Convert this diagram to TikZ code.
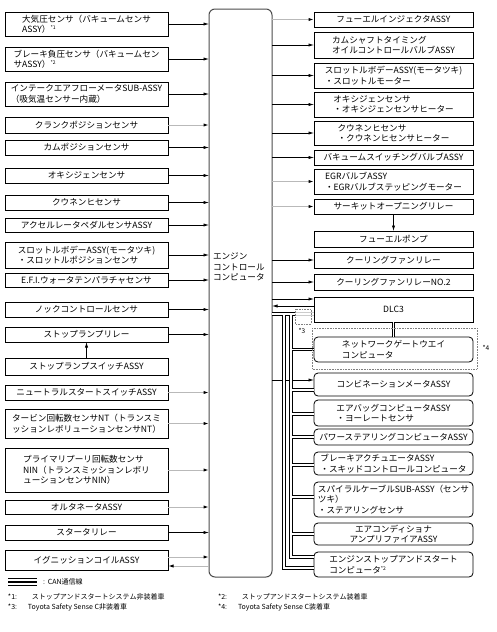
\documentclass[tikz,border=0pt]{standalone}
\usepackage{fontspec}
\setmainfont{Noto Sans CJK JP}
\usetikzlibrary{arrows.meta}
\newcommand{\mysup}[1]{\raisebox{3pt}{\fontsize{5}{5}\selectfont *#1}}
\begin{document}
\begin{tikzpicture}[x=1pt,y=-1pt,
  every node/.style={inner sep=0pt, outer sep=0pt, font=\fontsize{8.6}{10.5}\selectfont},
  lbox/.style={draw, line width=0.8pt, minimum width=163pt, align=left},
  rbox/.style={draw, line width=0.8pt, minimum width=159pt, align=left},
  rrbox/.style={rbox, rounded corners=4pt},
  arr/.style={line width=0.7pt, -{Latex[length=5.5pt,width=3.2pt,color=black]}},
  garr/.style={arr, draw=gray!55, line width=1pt},
  can/.style={line width=1pt, double=white, double distance=1.4pt},
  note/.style={font=\fontsize{7}{8}\selectfont, anchor=west},
]
\useasboundingbox (0,0) rectangle (496,632);
\fill[white] (0,0) rectangle (496,632);

% ECU
\node[draw=black!70, line width=1pt, rounded corners=6pt, minimum width=63pt, minimum height=568pt] (ecu) at (240.5,293) {};
\node[anchor=west, align=left] (ecutxt) at (213,267) {エンジン\\コントロール\\コンピュータ};

% left boxes
\node[lbox, minimum height=24pt] (L1) at (86.5,24) {大気圧センサ（バキュームセンサ\\ASSY）\mysup{1}};
\node[lbox, minimum height=24pt] (L2) at (86.5,59) {ブレーキ負圧センサ（バキュームセン\\サASSY）\mysup{2}};
\node[lbox, minimum height=24pt] (L3) at (86.5,94) {インテークエアフローメータSUB-ASSY\\（吸気温センサー内蔵）};
\node[lbox, minimum height=16pt] (L4) at (86.5,125) {クランクポジションセンサ};
\node[lbox, minimum height=15pt] (L5) at (86.5,147.5) {カムポジションセンサ};
\node[lbox, minimum height=15pt] (L6) at (86.5,175.5) {オキシジェンセンサ};
\node[lbox, minimum height=15pt] (L7) at (86.5,202.5) {クウネンヒセンサ};
\node[lbox, minimum height=14pt] (L8) at (86.5,225) {アクセルレータペダルセンサASSY};
\node[lbox, minimum height=26pt] (L9) at (86.5,255) {スロットルボデーASSY(モータツキ)\\・スロットルポジションセンサ};
\node[lbox, minimum height=14pt] (L10) at (86.5,280) {E.F.I.ウォータテンパラチャセンサ};
\node[lbox, minimum height=15pt] (L11) at (86.5,309.5) {ノックコントロールセンサ};
\node[lbox, minimum height=15pt] (L12) at (86.5,334.5) {ストップランプリレー};
\node[lbox, minimum height=17pt] (L13) at (86.5,366.5) {ストップランプスイッチASSY};
\node[lbox, minimum height=15pt] (L14) at (86.5,392.5) {ニュートラルスタートスイッチASSY};
\node[lbox, minimum height=29pt] (L15) at (86.5,423.5) {タービン回転数センサNT（トランスミ\\ッションレボリューションセンサNT）};
\node[lbox, minimum height=44pt] (L16) at (86.5,470) {プライマリプーリ回転数センサ\\NIN（トランスミッションレボリ\\ューションセンサNIN）};
\node[lbox, minimum height=14pt] (L17) at (86.5,507) {オルタネータASSY};
\node[lbox, minimum height=15pt] (L18) at (86.5,532.5) {スタータリレー};
\node[lbox, minimum height=20pt] (L19) at (86.5,560) {イグニッションコイルASSY};

% right boxes
\node[rbox, minimum height=15pt] (R1) at (393.5,19.5) {フューエルインジェクタASSY};
\node[rbox, minimum height=26pt] (R2) at (393.5,45) {カムシャフトタイミング\\オイルコントロールバルブASSY};
\node[rbox, minimum height=25pt] (R3) at (393.5,75.5) {スロットルボデーASSY(モータツキ)\\・スロットルモーター};
\node[rbox, minimum height=25pt] (R4) at (393.5,104.5) {オキシジェンセンサ\\・オキシジェンセンサヒーター};
\node[rbox, minimum height=24pt] (R5) at (393.5,133) {クウネンヒセンサ\\・クウネンヒセンサヒーター};
\node[rbox, minimum height=15pt] (R6) at (393.5,157.5) {バキュームスイッチングバルブASSY};
\node[rbox, minimum height=25pt] (R7) at (393.5,181.5) {EGRバルブASSY\\・EGRバルブステッピングモーター};
\node[rbox, minimum height=15pt] (R8) at (393.5,206.5) {サーキットオープニングリレー};
\node[rbox, minimum height=16pt] (R9) at (393.5,239) {フューエルポンプ};
\node[rbox, minimum height=16pt] (R10) at (393.5,260) {クーリングファンリレー};
\node[rbox, minimum height=16pt] (R11) at (393.5,282) {クーリングファンリレーNO.2};
\node[rbox, minimum height=25pt] (R12) at (393.5,309.5) {DLC3};
\node[rrbox, minimum height=25pt] (R13) at (393.5,349.5) {ネットワークゲートウエイ\\コンピュータ};
\node[rrbox, minimum height=23pt] (R14) at (393.5,384.5) {コンビネーションメータASSY};
\node[rrbox, minimum height=26pt] (R15) at (393.5,413) {エアバッグコンピュータASSY\\・ヨーレートセンサ};
\node[rrbox, minimum height=16pt] (R16) at (393.5,437) {パワーステアリングコンピュータASSY};
\node[rrbox, minimum height=23pt] (R17) at (393.5,463.5) {ブレーキアクチュエータASSY\\・スキッドコントロールコンピュータ};
\node[rrbox, minimum height=35pt] (R18) at (393.5,499.5) {スパイラルケーブルSUB-ASSY（センサ\\ツキ）\\・ステアリングセンサ};
\node[rrbox, minimum height=22pt, align=center] (R19) at (393.5,534) {エアコンディショナ\\アンプリファイアASSY};
\node[rrbox, minimum height=25pt] (R20) at (393.5,564.5) {エンジンストップアンドスタート\\コンピュータ\mysup{2}};

% left arrows into ECU
\foreach \n in {L1,L2,L3,L5,L6,L7,L8,L9,L10,L11,L12,L18}
  \draw[arr] (\n.east) -- (\n.east -| ecu.west);
\foreach \n in {L4,L14,L15,L16,L17}
  \draw[garr] (\n.east) -- (\n.east -| ecu.west);
\draw[garr] ([yshift=3pt]L19.east) -- ([yshift=3pt]L19.east -| ecu.west);
\draw[garr] ([yshift=-6pt]L19.east -| ecu.west) -- ([yshift=-6pt]L19.east);
\draw[arr] (L13.north) -- (L12.south);

% right arrows out of ECU
\foreach \n in {R2,R3,R4,R5,R6,R10,R11}
  \draw[arr] (\n.west -| ecu.east) -- (\n.west);
\foreach \n in {R1,R7,R8}
  \draw[garr] (\n.west -| ecu.east) -- (\n.west);
\draw[arr] (R8.south) -- (R9.north);
\draw[arr] ([yshift=10.5pt]R12.west -| ecu.east) -- ([yshift=10.5pt]R12.west);
\draw[arr] ([yshift=3.5pt]R12.west) -- ([yshift=3.5pt]R12.west -| ecu.east);
\draw[arr] ([yshift=4.5pt]R14.west -| ecu.east) -- ([yshift=4.5pt]R14.west);

% CAN bus
\draw[can, draw=gray!40] (295,314) -- (R12.west |- 0,314);
\draw[can] (ecu.east |- 0,314) -- (295,314)
  (284,314) -- (284,568) -- (R20.west |- 0,568)
  (291,314) -- (291,557) -- (R20.west |- 0,557)
  (291,349.5) -- (R13.west)
  (291,390) -- (R14.west |- 0,390)
  (291,414) -- (R15.west |- 0,414)
  (291,437) -- (R16.west)
  (291,465) -- (R17.west |- 0,465)
  (291,497) -- (R18.west |- 0,497)
  (291,534) -- (R19.west)
  (R12.south) -- (R13.north);

% option boxes
\draw[densely dotted, gray, line width=0.6pt] (295,309) rectangle (311,324);
\node[font=\fontsize{6.5}{7}\selectfont] (n3) at (302,331) {*3};
\draw[densely dotted, gray, line width=0.6pt] (312,328) rectangle (477,369);
\node[font=\fontsize{6.5}{7}\selectfont] (n4) at (486,348) {*4};

% legend
\draw[line width=1.4pt] (8,578.5) -- (37,578.5);
\draw[line width=1.4pt] (8,582) -- (37,582);
\draw[line width=1.4pt] (8,585.5) -- (37,585.5);
\node[note] (leg) at (43,582) {:\hspace{3pt}CAN通信線};
\node[note] (f1) at (8,597) {\makebox[24pt][l]{*1:}ストップアンドスタートシステム非装着車};
\node[note] (f2) at (218,597) {\makebox[24pt][l]{*2:}ストップアンドスタートシステム装着車};
\node[note] (f3) at (8,607) {\makebox[20pt][l]{*3:}Toyota Safety Sense C非装着車};
\node[note] (f4) at (218,607) {\makebox[20pt][l]{*4:}Toyota Safety Sense C装着車};
\end{tikzpicture}
\end{document}
